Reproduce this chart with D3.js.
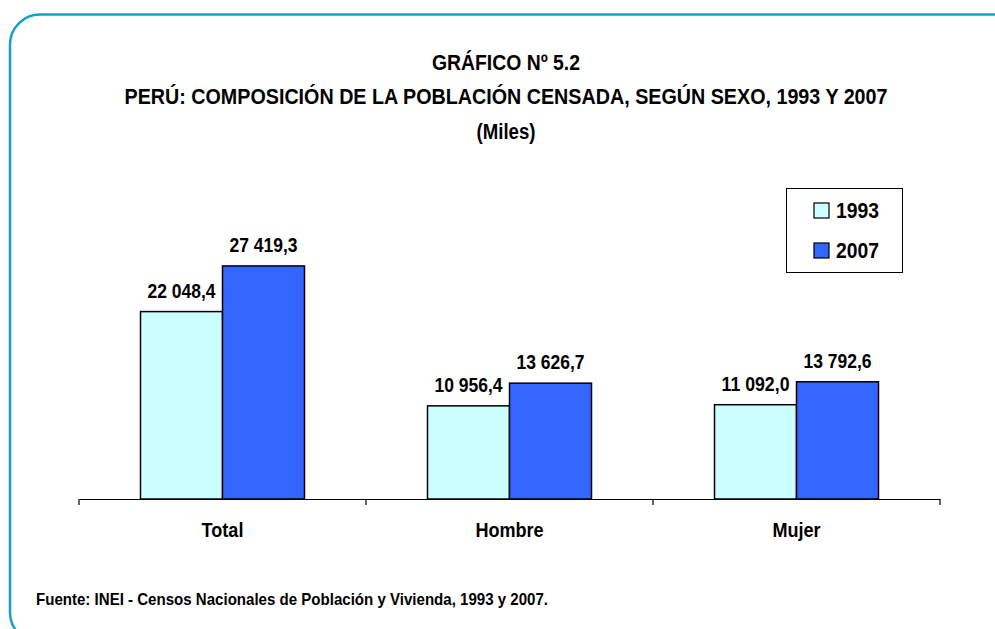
<!DOCTYPE html>
<html><head><meta charset="utf-8">
<script src="https://cdn.jsdelivr.net/npm/d3@7"></script>
<style>
html,body{margin:0;padding:0;background:#fff;}
svg{display:block;}
text{font-family:"Liberation Sans Narrow","Arial Narrow","Liberation Sans",Arial,sans-serif;font-weight:bold;fill:#000;}
</style></head>
<body>
<svg id="c" width="995" height="629"></svg>
<script>
const categories = ["Total", "Hombre", "Mujer"];
const seriesNames = ["1993", "2007"];
const values1993 = [22048.4, 10956.4, 11092.0];
const values2007 = [27419.3, 13626.7, 13792.6];
const valueLabels1993 = ["22 048,4", "10 956,4", "11 092,0"];
const valueLabels2007 = ["27 419,3", "13 626,7", "13 792,6"];
const titleLines = ["GRÁFICO Nº 5.2", "PERÚ: COMPOSICIÓN DE LA POBLACIÓN CENSADA, SEGÚN SEXO, 1993 Y 2007", "(Miles)"];
const sourceText = "Fuente: INEI - Censos Nacionales de Población y Vivienda, 1993 y 2007.";
const colors = ["#ccffff", "#3366ff"];

// condense text horizontally to mimic a narrow font
function narrow(sel, factor){
  sel.each(function(){
    const w = this.getComputedTextLength();
    d3.select(this).attr("textLength", w*factor).attr("lengthAdjust","spacingAndGlyphs");
  });
  return sel;
}

const svg = d3.select("#c");
svg.append("rect").attr("x",10).attr("y",14.5).attr("width",1020).attr("height",628).attr("rx",30)
  .attr("fill","none").attr("stroke","#14a0c8").attr("stroke-width",2.5);

const titleY = [70, 104, 139];
const titleW = [148, 763, 59];
titleLines.forEach((t,i)=>{
  svg.append("text").attr("x",506).attr("y",titleY[i]).attr("text-anchor","middle")
    .attr("font-size",22).attr("textLength",titleW[i]).attr("lengthAdjust","spacingAndGlyphs").text(t);
});

const x = d3.scaleBand().domain(categories).range([79, 940]).paddingInner(0).paddingOuter(0);
const y = d3.scaleLinear().domain([0, 30000]).range([499, 244]);
const barW = 82;

const data = categories.map((c,i)=>({cat:c, vals:[values1993[i], values2007[i]], labs:[valueLabels1993[i], valueLabels2007[i]]}));

const g = svg.append("g");
data.forEach(d=>{
  const cx = x(d.cat) + x.bandwidth()/2;
  d.vals.forEach((v,j)=>{
    const bx = cx - barW + j*barW;
    g.append("rect").attr("x",bx).attr("y",y(v)).attr("width",barW).attr("height",y(0)-y(v))
      .attr("fill",colors[j]).attr("stroke","#000").attr("stroke-width",1.5);
    g.append("text").attr("x",bx+barW/2).attr("y",y(v)-14).attr("text-anchor","middle")
      .attr("font-size",21).attr("textLength",68).attr("lengthAdjust","spacingAndGlyphs").text(d.labs[j]);
  });
});

const axis = d3.axisBottom(x).tickSize(0).tickFormat(d=>d);
const ax = svg.append("g").attr("transform",`translate(0,${y(0)})`).call(axis);
ax.select(".domain").attr("stroke","#000").attr("stroke-width",1.2);
ax.selectAll(".tick text").attr("font-size",21).attr("dy",0).attr("y",38)
  .style("font-family",'"Liberation Sans Narrow","Arial Narrow","Liberation Sans",Arial,sans-serif').style("font-weight","bold");
narrow(ax.selectAll(".tick text"), 0.86);
const edges = categories.map(c=>x(c)).concat([x.range()[1]]);
edges.forEach(e=>{
  svg.append("line").attr("x1",e).attr("x2",e).attr("y1",y(0)).attr("y2",y(0)+6).attr("stroke","#000").attr("stroke-width",1.2);
});

// legend
const lg = svg.append("g");
lg.append("rect").attr("x",786.5).attr("y",188.5).attr("width",116).attr("height",84).attr("fill","#fff").attr("stroke","#000").attr("stroke-width",1);
seriesNames.forEach((s,i)=>{
  const yy = 203 + i*40;
  lg.append("rect").attr("x",814).attr("y",yy).attr("width",15).attr("height",15).attr("fill",colors[i]).attr("stroke","#000").attr("stroke-width",1.2);
  lg.append("text").attr("x",836).attr("y",yy+14.5).attr("font-size",22)
    .attr("textLength",43).attr("lengthAdjust","spacingAndGlyphs").text(s);
});

svg.append("text").attr("x",36).attr("y",605).attr("font-size",17)
  .attr("textLength",512).attr("lengthAdjust","spacingAndGlyphs").text(sourceText);
</script>
</body></html>
